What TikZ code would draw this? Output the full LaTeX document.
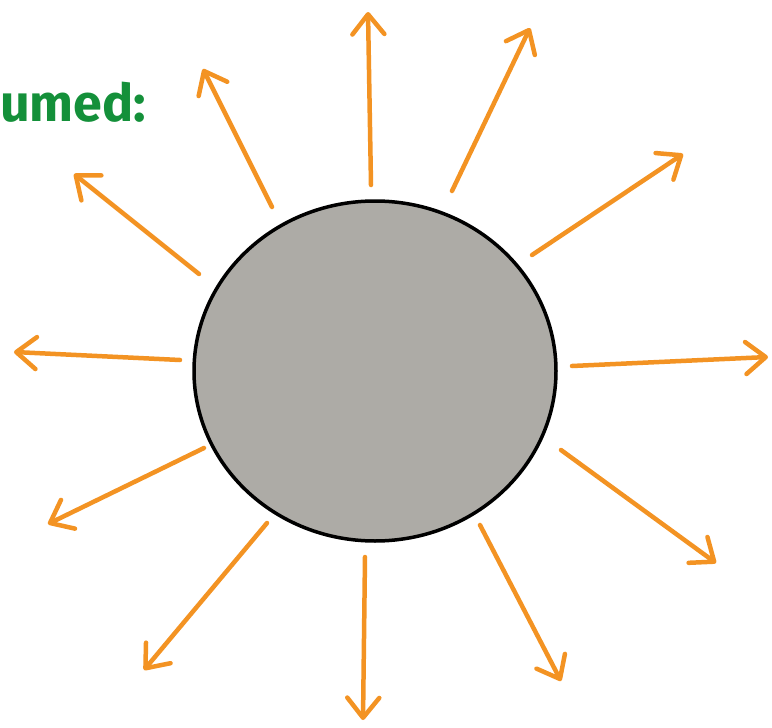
\documentclass[tikz,border=0pt]{standalone}
\usepackage{fontspec}
\setsansfont{Fira Sans}
\usetikzlibrary{arrows.meta, shapes.geometric}
\definecolor{rayc}{HTML}{F39323}
\definecolor{bodyc}{HTML}{ADABA6}
\definecolor{notec}{HTML}{14903A}

\begin{document}
\begin{tikzpicture}[x=1pt, y=-1pt,
    ray/.style={rayc, line width=4.5pt, line cap=round,
      -{Straight Barb[length=20pt, width=32pt, round]}},
    body/.style={ellipse, draw=black, line width=3.5pt, fill=bodyc,
      minimum width=362pt, minimum height=340pt, inner sep=0pt}]
  \useasboundingbox (0,0) rectangle (772,728);
  % heading, cut at the left edge
  \node[anchor=base west, inner sep=0pt, text=notec,
        font=\sffamily\bfseries\fontsize{52}{52}\selectfont] (note) at (0,121) {umed:};
  % the sphere
  \node[body] (sphere) at (375,371) {};
  % rays going out, start near the rim / tip
  \foreach \i/\s/\t in {1/{371,185}/{368,12}, 2/{452,191}/{530,28},
      3/{532,255}/{683,154}, 4/{572,366}/{768,357}, 5/{561,450}/{716,563},
      6/{480,525}/{561,681}, 7/{365,557}/{363,720}, 8/{267,523}/{144,670},
      9/{204,448}/{48,524}, 10/{180,360}/{14,352}, 11/{199,274}/{74,174},
      12/{272,207}/{203,69}} {
    \coordinate (s\i) at (\s);
    \coordinate (t\i) at (\t);
    \draw[ray] (s\i) -- (t\i);
  }
\end{tikzpicture}
\end{document}
